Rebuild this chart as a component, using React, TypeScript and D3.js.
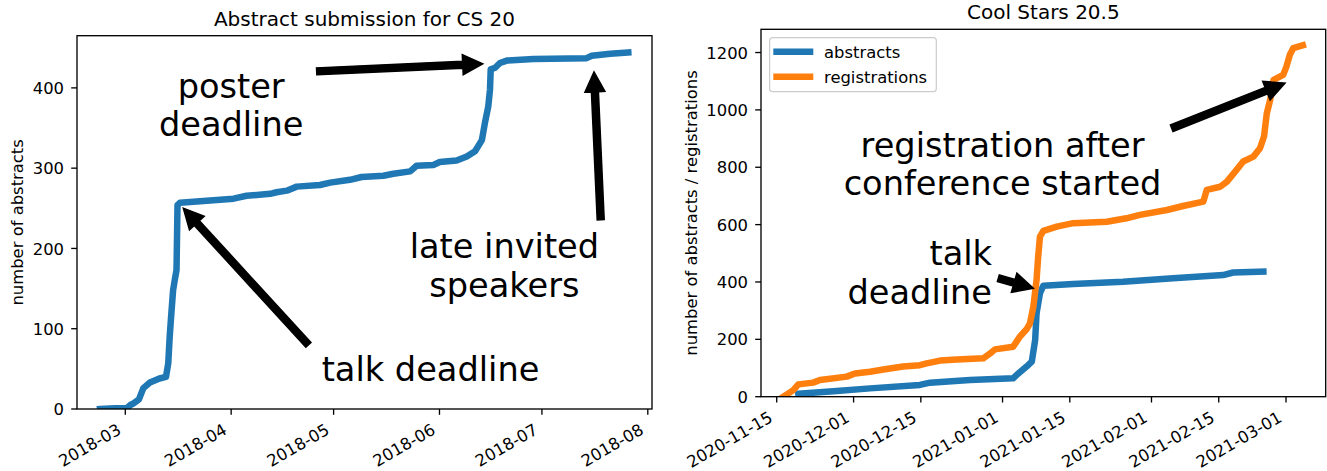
import React from "react";
import * as d3 from "d3";

// ---------- data ----------
const cs20Dates = [
  "2018-02-21T14:00", "2018-02-26T00:00", "2018-03-01T10:00", "2018-03-02T12:00", "2018-03-03T10:00",
  "2018-03-05T00:00", "2018-03-06T07:00", "2018-03-08T05:00", "2018-03-11T00:00", "2018-03-12T22:00",
  "2018-03-13T14:00", "2018-03-14T00:00", "2018-03-14T10:00", "2018-03-15T00:00", "2018-03-15T12:00",
  "2018-03-16T00:00", "2018-03-16T07:00", "2018-03-17T00:00", "2018-04-01T17:00", "2018-04-05T12:00",
  "2018-04-12T10:00", "2018-04-14T07:00", "2018-04-17T07:00", "2018-04-20T05:00", "2018-04-27T00:00",
  "2018-04-30T00:00", "2018-05-05T19:00", "2018-05-09T05:00", "2018-05-15T14:00", "2018-05-18T12:00",
  "2018-05-23T10:00", "2018-05-25T07:00", "2018-05-30T05:00", "2018-06-01T02:00", "2018-06-06T00:00",
  "2018-06-09T00:00", "2018-06-11T10:00", "2018-06-13T10:00", "2018-06-14T07:00", "2018-06-15T07:00",
  "2018-06-15T19:00", "2018-06-16T00:00", "2018-06-17T07:00", "2018-06-18T17:00", "2018-06-20T17:00",
  "2018-06-28T12:00", "2018-07-14T02:00", "2018-07-15T14:00", "2018-07-21T00:00", "2018-07-26T07:00",
];
const cs20Abstracts = [
  0, 1, 1, 5, 7, 12, 26, 33, 38, 40,
  57, 90, 115, 148, 161, 173, 254, 257, 262, 265.6,
  268, 270, 272, 277, 279, 282, 285.5, 289, 290.5, 293,
  296, 303, 304, 307.6, 309.6, 314.6, 321, 335, 356, 377,
  398, 423, 425, 431, 434, 436, 437, 440, 442.6, 444,
];
const cs20XTicks = ["2018-03", "2018-04", "2018-05", "2018-06", "2018-07", "2018-08"];
const cs20YTicks = [0, 100, 200, 300, 400];
const cs20XDomain = ["2018-02-14T20:40", "2018-08-02T05:30"];
const cs20YDomain = [0, 465];

const cs205AbsDates = [
  "2020-11-19T12:00", "2020-11-27T12:00", "2020-12-04T10:00", "2020-12-14T19:00", "2020-12-16T22:00",
  "2020-12-25T05:00", "2021-01-03T05:00", "2021-01-04T07:00", "2021-01-06T00:00", "2021-01-07T02:00",
  "2021-01-07T19:00", "2021-01-08T02:00", "2021-01-08T19:00", "2021-01-09T12:00", "2021-01-15T17:00",
  "2021-01-26T02:00", "2021-02-05T12:00", "2021-02-15T22:00", "2021-02-18T00:00", "2021-02-24T07:00",
];
const cs205Abstracts = [10, 20, 29, 41, 49, 58, 64, 81, 105, 122, 198, 291, 361, 387, 393, 401, 413, 424, 433, 436];

const cs205RegDates = [
  "2020-11-16T09:00", "2020-11-18T11:00", "2020-11-19T12:00", "2020-11-22T14:00", "2020-11-24T00:00",
  "2020-11-29T14:00", "2020-12-01T07:00", "2020-12-04T10:00", "2020-12-07T05:00", "2020-12-11T07:00",
  "2020-12-14T19:00", "2020-12-16T05:00", "2020-12-19T00:00", "2020-12-22T12:00", "2020-12-28T00:00",
  "2020-12-29T10:00", "2020-12-30T10:00", "2021-01-03T05:00", "2021-01-03T22:00", "2021-01-04T14:00",
  "2021-01-06T00:00", "2021-01-06T17:00", "2021-01-07T10:00", "2021-01-08T02:00", "2021-01-08T10:00",
  "2021-01-08T19:00", "2021-01-09T12:00", "2021-01-12T07:00", "2021-01-15T17:00", "2021-01-22T17:00",
  "2021-01-26T19:00", "2021-01-29T14:00", "2021-02-04T05:00", "2021-02-07T14:00", "2021-02-11T19:00",
  "2021-02-12T12:00", "2021-02-15T07:00", "2021-02-16T17:00", "2021-02-18T17:00", "2021-02-20T02:00",
  "2021-02-22T05:00", "2021-02-23T14:00", "2021-02-24T10:00", "2021-02-25T00:00", "2021-02-25T17:00",
  "2021-02-26T10:00", "2021-02-28T10:00", "2021-03-01T02:00", "2021-03-01T19:00", "2021-03-02T12:00",
  "2021-03-04T12:00",
];
const cs205Registrations = [
  0, 23, 43, 49, 58, 70, 81, 87, 95, 105,
  110, 116, 126, 130, 134, 151, 165, 174, 192, 209,
  235, 256, 314, 407, 488, 558, 578, 593, 605, 610,
  622, 634, 651, 665, 680, 721, 732, 750, 791, 820,
  837, 866, 907, 988, 1035, 1105, 1122, 1151, 1192, 1215,
  1225,
];
const cs205XTicks = [
  "2020-11-15", "2020-12-01", "2020-12-15", "2021-01-01",
  "2021-01-15", "2021-02-01", "2021-02-15", "2021-03-01",
];
const cs205YTicks = [0, 200, 400, 600, 800, 1000, 1200];
const cs205XDomain = ["2020-11-11T17:30", "2021-03-09T06:15"];
const cs205YDomain = [0, 1281];

const cs20Notes = [
  { lines: ["poster", "deadline"], x: "2018-04-01T00:00", y: 388, anchor: "middle" },
  { lines: ["late invited", "speakers"], x: "2018-06-20T00:00", y: 188, anchor: "middle" },
  { lines: ["talk deadline"], x: "2018-05-29T09:00", y: 35, anchor: "middle" },
];
const cs20Arrows = [
  { from: ["2018-04-26T01:00", 420.6], to: ["2018-06-13T16:00", 430] },
  { from: ["2018-07-18T05:00", 235.7], to: ["2018-07-16T06:00", 420] },
  { from: ["2018-04-23T15:00", 79.8], to: ["2018-03-18T00:00", 250] },
];
const cs205Notes = [
  { lines: ["registration after", "conference started"], x: "2021-01-01T00:00", y: 837, anchor: "middle" },
  { lines: ["talk", "deadline"], x: "2020-12-29T19:30", y: 459, anchor: "end" },
];
const cs205Arrows = [
  { from: ["2021-02-05T05:00", 936], to: ["2021-02-28T19:00", 1093] },
  { from: ["2020-12-31T03:00", 413], to: ["2021-01-07T10:00", 378] },
];

// ---------- style ----------
const FONT = "DejaVu Sans, Verdana, sans-serif";
const BLUE = "#1f77b4";
const ORANGE = "#ff7f0e";
const TICK_FS = 16.4;
const TITLE_FS = 20;
const NOTE_FS = 33.6;
const LINE_H = 38.5;
const LW = 6.5;

const parseT = d3.utcParse("%Y-%m-%dT%H:%M");
const parse = (s: string): Date => {
  if (s.length === 7) return parseT(s + "-01T00:00")!;
  if (s.length === 10) return parseT(s + "T00:00")!;
  return parseT(s)!;
};

type Series = { dates: string[]; values: number[]; color: string; label: string };
type Note = { lines: string[]; x: string; y: number; anchor: string };
type Arrow = { from: (string | number)[]; to: (string | number)[] };

function arrowPath(x1: number, y1: number, x2: number, y2: number) {
  const sw = 7, hw = 20, hl = 20;
  const dx = x2 - x1, dy = y2 - y1;
  const L = Math.hypot(dx, dy);
  const ux = dx / L, uy = dy / L;
  const nx = -uy, ny = ux;
  const bx = x2 - ux * hl, by = y2 - uy * hl;
  const pts = [
    [x1 + nx * sw / 2, y1 + ny * sw / 2],
    [bx + nx * sw / 2, by + ny * sw / 2],
    [bx + nx * hw / 2, by + ny * hw / 2],
    [x2, y2],
    [bx - nx * hw / 2, by - ny * hw / 2],
    [bx - nx * sw / 2, by - ny * sw / 2],
    [x1 - nx * sw / 2, y1 - ny * sw / 2],
  ];
  return "M" + pts.map((p) => p[0].toFixed(2) + "," + p[1].toFixed(2)).join("L") + "Z";
}

function Panel(props: {
  box: { left: number; right: number; top: number; bottom: number };
  xDomain: string[];
  yDomain: number[];
  xTicks: string[];
  yTicks: number[];
  title: string;
  ylabel: string;
  ylabelX: number;
  series: Series[];
  notes: Note[];
  arrows: Arrow[];
  legend?: boolean;
}) {
  const { box } = props;
  const x = d3.scaleUtc().domain(props.xDomain.map(parse)).range([box.left, box.right]);
  const y = d3.scaleLinear().domain(props.yDomain).range([box.bottom, box.top]);
  const line = d3
    .line<[Date, number]>()
    .x((d) => x(d[0]))
    .y((d) => y(d[1]));
  const clipId = "clip" + Math.round(box.left);
  const cy = (box.top + box.bottom) / 2;
  return (
    <g>
      <defs>
        <clipPath id={clipId}>
          <rect x={box.left} y={box.top} width={box.right - box.left} height={box.bottom - box.top} />
        </clipPath>
      </defs>
      <text x={(box.left + box.right) / 2} y={box.top - 10} textAnchor="middle" fontSize={TITLE_FS} fill="#000">
        {props.title}
      </text>
      <g clipPath={`url(#${clipId})`}>
        {props.series.map((s, i) => (
          <path
            key={i}
            d={line(s.dates.map((d, j) => [parse(d), s.values[j]] as [Date, number])) || ""}
            fill="none"
            stroke={s.color}
            strokeWidth={LW}
            strokeLinejoin="round"
            strokeLinecap="square"
          />
        ))}
      </g>
      {props.arrows.map((a, i) => (
        <path
          key={i}
          d={arrowPath(
            x(parse(a.from[0] as string)),
            y(a.from[1] as number),
            x(parse(a.to[0] as string)),
            y(a.to[1] as number)
          )}
          fill="#000"
          stroke="#000"
          strokeWidth={1.5}
        />
      ))}
      {props.notes.map((n, i) => (
        <text
          key={i}
          x={x(parse(n.x))}
          y={y(n.y)}
          textAnchor={n.anchor as any}
          fontSize={NOTE_FS}
          fill="#000"
        >
          {n.lines.map((l, j) => (
            <tspan key={j} x={x(parse(n.x))} dy={j === 0 ? 0 : LINE_H}>
              {l}
            </tspan>
          ))}
        </text>
      ))}
      {/* spines */}
      <rect
        x={box.left}
        y={box.top}
        width={box.right - box.left}
        height={box.bottom - box.top}
        fill="none"
        stroke="#000"
        strokeWidth={1.33}
      />
      {/* y ticks */}
      {props.yTicks.map((t) => (
        <g key={t}>
          <line x1={box.left} x2={box.left - 5.8} y1={y(t)} y2={y(t)} stroke="#000" strokeWidth={1.33} />
          <text x={box.left - 13} y={y(t) + 6.1} textAnchor="end" fontSize={TICK_FS} fill="#000">
            {t}
          </text>
        </g>
      ))}
      {/* x ticks */}
      {props.xTicks.map((t) => {
        const px = x(parse(t));
        return (
          <g key={t}>
            <line x1={px} x2={px} y1={box.bottom} y2={box.bottom + 5.8} stroke="#000" strokeWidth={1.33} />
            <text
              transform={`translate(${px - 3},${box.bottom + 24}) rotate(-30)`}
              textAnchor="end"
              fontSize={TICK_FS}
              fill="#000"
            >
              {t}
            </text>
          </g>
        );
      })}
      <text
        transform={`translate(${props.ylabelX},${cy}) rotate(-90)`}
        textAnchor="middle"
        fontSize={TICK_FS}
        fill="#000"
      >
        {props.ylabel}
      </text>
      {props.legend && (
        <g>
          <rect
            x={box.left + 8.6}
            y={box.top + 8.4}
            width={166.7}
            height={54}
            rx={3}
            fill="#fff"
            fillOpacity={0.8}
            stroke="#cccccc"
            strokeWidth={1.2}
          />
          {props.series.map((s, i) => (
            <g key={i}>
              <line
                x1={box.left + 12.3}
                x2={box.left + 52.3}
                y1={box.top + 22.4 + i * 25}
                y2={box.top + 22.4 + i * 25}
                stroke={s.color}
                strokeWidth={LW}
              />
              <text x={box.left + 63} y={box.top + 28.4 + i * 25} fontSize={TICK_FS} fill="#000">
                {s.label}
              </text>
            </g>
          ))}
        </g>
      )}
    </g>
  );
}

export default function App() {
  return (
    <svg
      width={1327}
      height={471}
      viewBox="0 0 1327 471"
      style={{ position: "absolute", left: 0, top: 0, background: "#fff" }}
      fontFamily={FONT}
    >
      <rect x={0} y={0} width={1327} height={471} fill="#fff" />
      <Panel
        box={{ left: 77, right: 652, top: 35.7, bottom: 409 }}
        xDomain={cs20XDomain}
        yDomain={cs20YDomain}
        xTicks={cs20XTicks}
        yTicks={cs20YTicks}
        title="Abstract submission for CS 20"
        ylabel="number of abstracts"
        ylabelX={23.3}
        series={[{ dates: cs20Dates, values: cs20Abstracts, color: BLUE, label: "abstracts" }]}
        notes={cs20Notes}
        arrows={cs20Arrows}
      />
      <Panel
        box={{ left: 761, right: 1325.7, top: 29.3, bottom: 396.7 }}
        xDomain={cs205XDomain}
        yDomain={cs205YDomain}
        xTicks={cs205XTicks}
        yTicks={cs205YTicks}
        title="Cool Stars 20.5"
        ylabel="number of abstracts / registrations"
        ylabelX={696.5}
        series={[
          { dates: cs205AbsDates, values: cs205Abstracts, color: BLUE, label: "abstracts" },
          { dates: cs205RegDates, values: cs205Registrations, color: ORANGE, label: "registrations" },
        ]}
        notes={cs205Notes}
        arrows={cs205Arrows}
        legend
      />
    </svg>
  );
}
